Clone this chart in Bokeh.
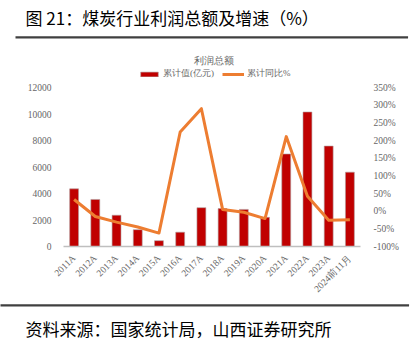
import math
from bokeh.plotting import figure
from bokeh.models import (Range1d, LinearAxis, FixedTicker, Legend, LegendItem,
                          Title, Label, CustomJSTickFormatter)
from bokeh.embed import file_html
from bokeh.resources import INLINE

categories = ["2011A", "2012A", "2013A", "2014A", "2015A", "2016A", "2017A",
              "2018A", "2019A", "2020A", "2021A", "2022A", "2023A", "2024前11月"]
profit = [4350, 3550, 2360, 1270, 440, 1080, 2930, 2860, 2800, 2200, 6980, 10150, 7580, 5610]
growth = [33, -15, -31, -45, -62, 224, 290, 5, -3, -21, 211, 42, -26, -24]
left_ticks = [0, 2000, 4000, 6000, 8000, 10000, 12000]
right_ticks = [-100, -50, 0, 50, 100, 150, 200, 250, 300, 350]

W, H = 413, 358
FL, FR, FT, FB = 63, 360, 40, 246
# the axis scale: 12000 / 350% sit 159 px above the baseline; frame extends higher
scale_px = 159.0
ext = (FB - FT) / scale_px

serif = "Liberation Serif"
tick_color = "#666666"

p = figure(width=W, height=H, output_backend="svg", toolbar_location=None,
           x_range=Range1d(-0.5, len(categories) - 0.5),
           y_range=Range1d(0, left_ticks[-1] * ext),
           min_border_left=FL, min_border_right=W - FR, min_border_top=FT,
           min_border_bottom=H - FB, outline_line_color=None)
p.extra_y_ranges = {"pct": Range1d(right_ticks[0],
                                   right_ticks[0] + (right_ticks[-1] - right_ticks[0]) * ext)}
p.xgrid.visible = False
p.ygrid.visible = False

xs = list(range(len(categories)))
bars = p.vbar(x=xs, top=profit, width=0.42, fill_color="#C00000",
              line_color="#B0A0A0", line_width=0.6)
line = p.line(x=xs, y=growth, line_color="#ED7D31", line_width=3,
              y_range_name="pct", line_join="round")

# axes
p.xaxis.ticker = FixedTicker(ticks=xs)
p.xaxis.major_label_overrides = {i: c for i, c in enumerate(categories)}
p.xaxis.major_label_orientation = math.pi / 4
p.xaxis.axis_line_color = "#BFBFBF"
p.xaxis.axis_line_width = 1.5
p.xaxis.major_tick_line_color = None
p.xaxis.minor_tick_line_color = None
p.xaxis.major_label_text_font = serif
p.xaxis.major_label_text_font_size = "9.5px"
p.xaxis.major_label_text_color = tick_color
p.xaxis.major_label_standoff = 4

p.yaxis.ticker = FixedTicker(ticks=left_ticks)
p.yaxis.axis_line_color = None
p.yaxis.major_tick_line_color = None
p.yaxis.minor_tick_line_color = None
p.yaxis.major_label_text_font = serif
p.yaxis.major_label_text_font_size = "9.5px"
p.yaxis.major_label_text_color = tick_color
p.yaxis.major_label_standoff = 6

ra = LinearAxis(y_range_name="pct", ticker=FixedTicker(ticks=right_ticks),
                formatter=CustomJSTickFormatter(code="return tick + '%';"))
ra.axis_line_color = None
ra.major_tick_line_color = None
ra.minor_tick_line_color = None
ra.major_label_text_font = serif
ra.major_label_text_font_size = "9.5px"
ra.major_label_text_color = tick_color
ra.major_label_standoff = 7
p.add_layout(ra, "right")

legend = Legend(items=[LegendItem(label="累计值(亿元)", renderers=[bars]),
                       LegendItem(label="累计同比%", renderers=[line])],
                orientation="horizontal", location=(75, 166),
                label_text_font=serif, label_text_font_size="9px",
                label_text_color=tick_color, glyph_width=22, glyph_height=6,
                spacing=8, padding=0, margin=0, border_line_color=None,
                background_fill_alpha=0, label_standoff=3, label_height=10)
p.add_layout(legend, "center")

p.add_layout(Label(x=213, y=60, x_units="canvas", y_units="canvas", text="利润总额",
                   text_font=serif, text_font_size="10px", text_color=tick_color,
                   text_align="center", text_baseline="middle"))

# top rule and heading (stacked above the frame)
p.add_layout(Title(text=" ", text_font_size="2px", align="left", offset=-48, standoff=4,
                   padding=dict(left=196, right=196, top=0, bottom=0),
                   background_fill_color="#404040", background_fill_alpha=1,
                   border_line_color=None), "above")
p.add_layout(Title(text="图 21：煤炭行业利润总额及增速（%）", text_font="Noto Sans CJK SC",
                   text_font_size="17px", text_font_style="normal", text_color="#000000",
                   align="left", offset=-38, standoff=5), "above")

# bottom rule and source (stacked below the axis)
p.add_layout(Title(text=" ", text_font_size="2px", align="left", offset=-63, standoff=4,
                   padding=dict(left=204, right=204, top=0, bottom=0),
                   background_fill_color="#404040", background_fill_alpha=1,
                   border_line_color=None), "below")
p.add_layout(Title(text="资料来源：国家统计局，山西证券研究所", text_font="Noto Sans CJK SC",
                   text_font_size="17px", text_font_style="normal", text_color="#000000",
                   align="left", offset=-38, standoff=10), "below")

open("out.html", "w").write(file_html(p, INLINE))
